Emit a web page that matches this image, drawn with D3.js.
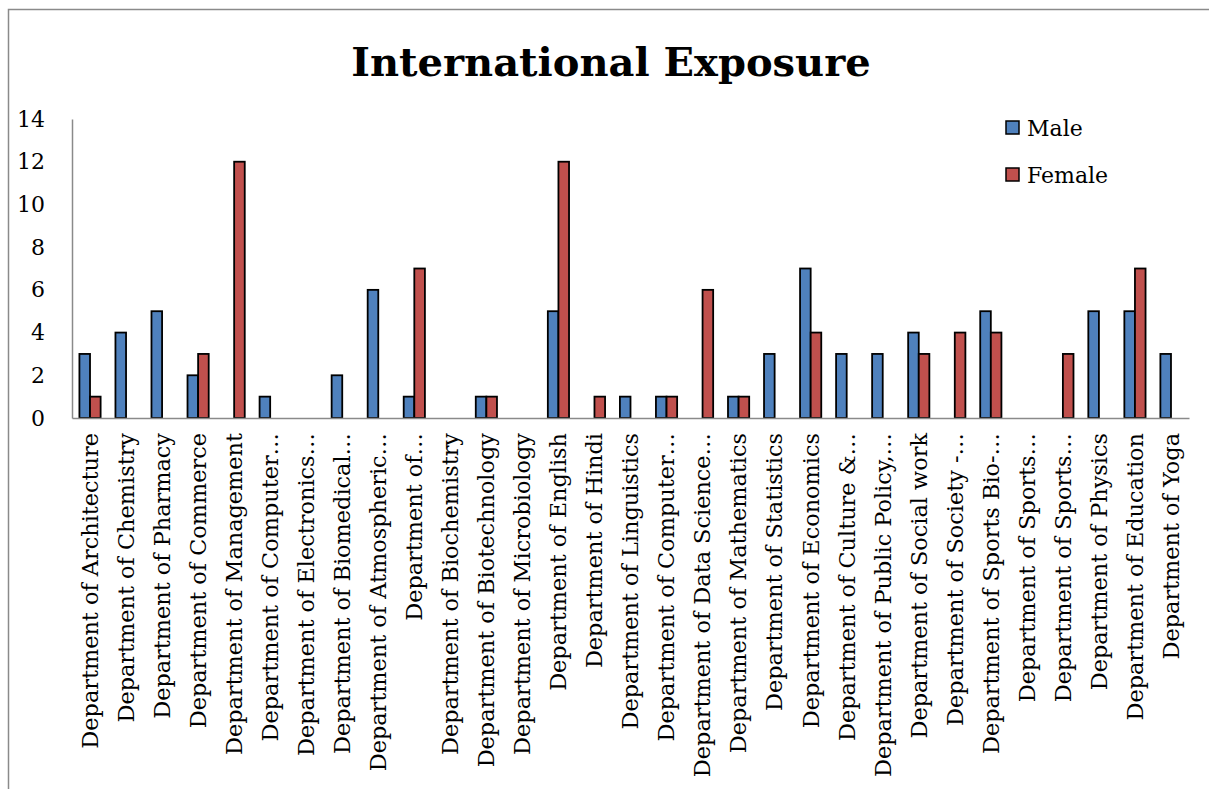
<!DOCTYPE html>
<html>
<head>
<meta charset="utf-8">
<script src="https://cdn.jsdelivr.net/npm/d3@7"></script>
<style>
  html, body { margin: 0; padding: 0; background: #fff; }
  svg { display: block; }
  text { font-family: "DejaVu Serif", "Liberation Serif", serif; fill: #000; }
</style>
</head>
<body>
<svg id="chart" width="1209" height="789"></svg>
<script>
const categories = [
  "Department of Architecture",
  "Department of Chemistry",
  "Department of Pharmacy",
  "Department of Commerce",
  "Department of Management",
  "Department of Computer…",
  "Department of Electronics…",
  "Department of Biomedical…",
  "Department of Atmospheric…",
  "Department of…",
  "Department of Biochemistry",
  "Department of Biotechnology",
  "Department of Microbiology",
  "Department of English",
  "Department of Hindi",
  "Department of Linguistics",
  "Department of Computer…",
  "Department of Data Science…",
  "Department of Mathematics",
  "Department of Statistics",
  "Department of Economics",
  "Department of Culture &…",
  "Department of Public Policy,…",
  "Department of Social work",
  "Department of Society -…",
  "Department of Sports Bio-…",
  "Department of Sports…",
  "Department of Sports…",
  "Department of Physics",
  "Department of Education",
  "Department of Yoga"
];
const male   = [3,4,5,2,0,1,0,2,6,1,0,1,0,5,0,1,1,0,1,3,7,3,3,4,0,5,0,0,5,5,3];
const female = [1,0,0,3,12,0,0,0,0,7,0,1,0,12,1,0,1,6,1,0,4,0,0,3,4,4,0,3,0,7,0];
const seriesNames = ["Male", "Female"];
const seriesColors = ["#4F81BD", "#C0504D"];
const yTicks = [0,2,4,6,8,10,12,14];
const title = "International Exposure";

const svg = d3.select("#chart");
const W = 1209, H = 789;

// outer border
svg.append("rect").attr("x", 8.5).attr("y", 9.5).attr("width", W + 10).attr("height", H + 10)
  .attr("fill", "none").attr("stroke", "#8a8a8a").attr("stroke-width", 1.5);

const x0 = 72, x1 = 1189, yTop = 119, yBot = 418;

const idx = categories.map((d, i) => i);
const x = d3.scaleBand().domain(idx).range([x0, x1]).paddingInner(0).paddingOuter(0);
const y = d3.scaleLinear().domain([0, 14]).range([yBot, yTop]);
const barW = 10.6;

// title
svg.append("text").attr("x", 611).attr("y", 76).attr("text-anchor", "middle")
  .attr("font-weight", "bold").attr("font-size", 40).text(title);

// y axis
const yAxis = svg.append("g").attr("transform", `translate(${x0},0)`)
  .call(d3.axisLeft(y).tickValues(yTicks).tickSize(0).tickPadding(27));
yAxis.select(".domain").attr("stroke", "#8a8a8a").attr("stroke-width", 1.5);
yAxis.selectAll("text").attr("font-size", 22).attr("font-family", "DejaVu Serif");

// bars
const data = [male, female];
data.forEach((vals, s) => {
  svg.append("g").selectAll("rect").data(vals).join("rect")
    .attr("x", (d, i) => x(i) + x.bandwidth() / 2 - barW + s * barW)
    .attr("y", d => y(d))
    .attr("width", barW)
    .attr("height", d => yBot - y(d))
    .attr("fill", seriesColors[s])
    .attr("stroke", d => d > 0 ? "#000" : "none")
    .attr("stroke-width", 1.8);
});

// x axis
const xAxis = svg.append("g").attr("transform", `translate(0,${yBot})`)
  .call(d3.axisBottom(x).tickSize(0).tickFormat(i => categories[i]));
xAxis.select(".domain").attr("stroke", "#8a8a8a").attr("stroke-width", 1.5);
xAxis.selectAll("text")
  .attr("font-size", 22.4).attr("font-family", "DejaVu Serif")
  .attr("transform", "rotate(-90)")
  .attr("text-anchor", "end")
  .attr("x", -15).attr("y", 0).attr("dy", "0.35em");

// legend
const lg = svg.append("g");
seriesNames.forEach((n, s) => {
  const ly = 128 + s * 47;
  lg.append("rect").attr("x", 1006).attr("y", ly - 7).attr("width", 13).attr("height", 13)
    .attr("fill", seriesColors[s]).attr("stroke", "#000").attr("stroke-width", 1.5);
  lg.append("text").attr("x", 1027).attr("y", ly).attr("dy", "0.35em")
    .attr("font-size", 22).text(n);
});
</script>
</body>
</html>
